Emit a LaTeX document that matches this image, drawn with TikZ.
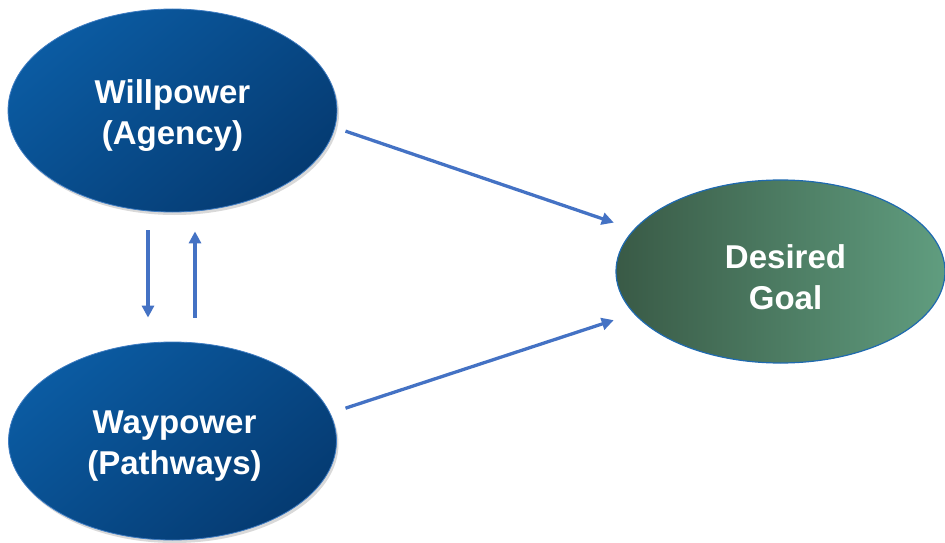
\documentclass[tikz,border=0pt]{standalone}
\usepackage{fontspec}
\setmainfont{Liberation Sans}
\usetikzlibrary{arrows.meta,shadows,calc,shapes.geometric}
\definecolor{blueA}{HTML}{0B5BA2}
\definecolor{blueB}{HTML}{053B72}
\definecolor{blueEdge}{HTML}{3F7CC2}
\definecolor{greenA}{HTML}{395A46}
\definecolor{greenB}{HTML}{609D7F}
\definecolor{greenEdge}{HTML}{1F6AB0}
\definecolor{arrowBlue}{HTML}{4472C4}
\begin{document}
\begin{tikzpicture}[x=1pt,y=-1pt,
  lbl/.style={text=white,font=\bfseries\fontsize{33}{41}\selectfont,align=center,inner sep=0pt},
  blueoval/.style={ellipse,inner sep=0pt,draw=blueEdge,line width=0.8pt,
    top color=blueA,bottom color=blueB,shading angle=40,
    drop shadow={shadow xshift=2pt,shadow yshift=-3pt,opacity=0.25,fill=black!60}},
  greenoval/.style={ellipse,inner sep=0pt,draw=greenEdge,line width=1.2pt,
    left color=greenA,right color=greenB},
  conn/.style={draw=arrowBlue,line width=3.3pt,-{Triangle[length=12pt,width=12pt]}}
]
\useasboundingbox (0,0) rectangle (945,543);
\node[blueoval,minimum width=329pt,minimum height=203pt] (will) at (172.5,110.5) {};
\node[blueoval,minimum width=328pt,minimum height=198pt] (way) at (172.5,441) {};
\node[greenoval,minimum width=329pt,minimum height=183pt] (goal) at (780.5,271.5) {};
\node[lbl] (willt) at ($(will.center)+(0,5)$) {Willpower\\(Agency)};
\node[lbl] (wayt) at ($(way.center)+(2,5)$) {Waypower\\(Pathways)};
\node[lbl] (goalt) at ($(goal.center)+(5,6)$) {Desired\\Goal};
\draw[conn,shorten <=11pt,shorten >=21pt] (will.-6) -- (goal.164);
\draw[conn,shorten <=16pt,shorten >=21pt] (way.10) -- (goal.196);
\draw[conn,shorten <=18pt,shorten >=24pt] ([xshift=-24.5pt]will.south) -- ([xshift=-24.5pt]way.north);
\draw[conn,shorten <=24pt,shorten >=19pt] ([xshift=22.5pt]way.north) -- ([xshift=22.5pt]will.south);
\end{tikzpicture}
\end{document}
